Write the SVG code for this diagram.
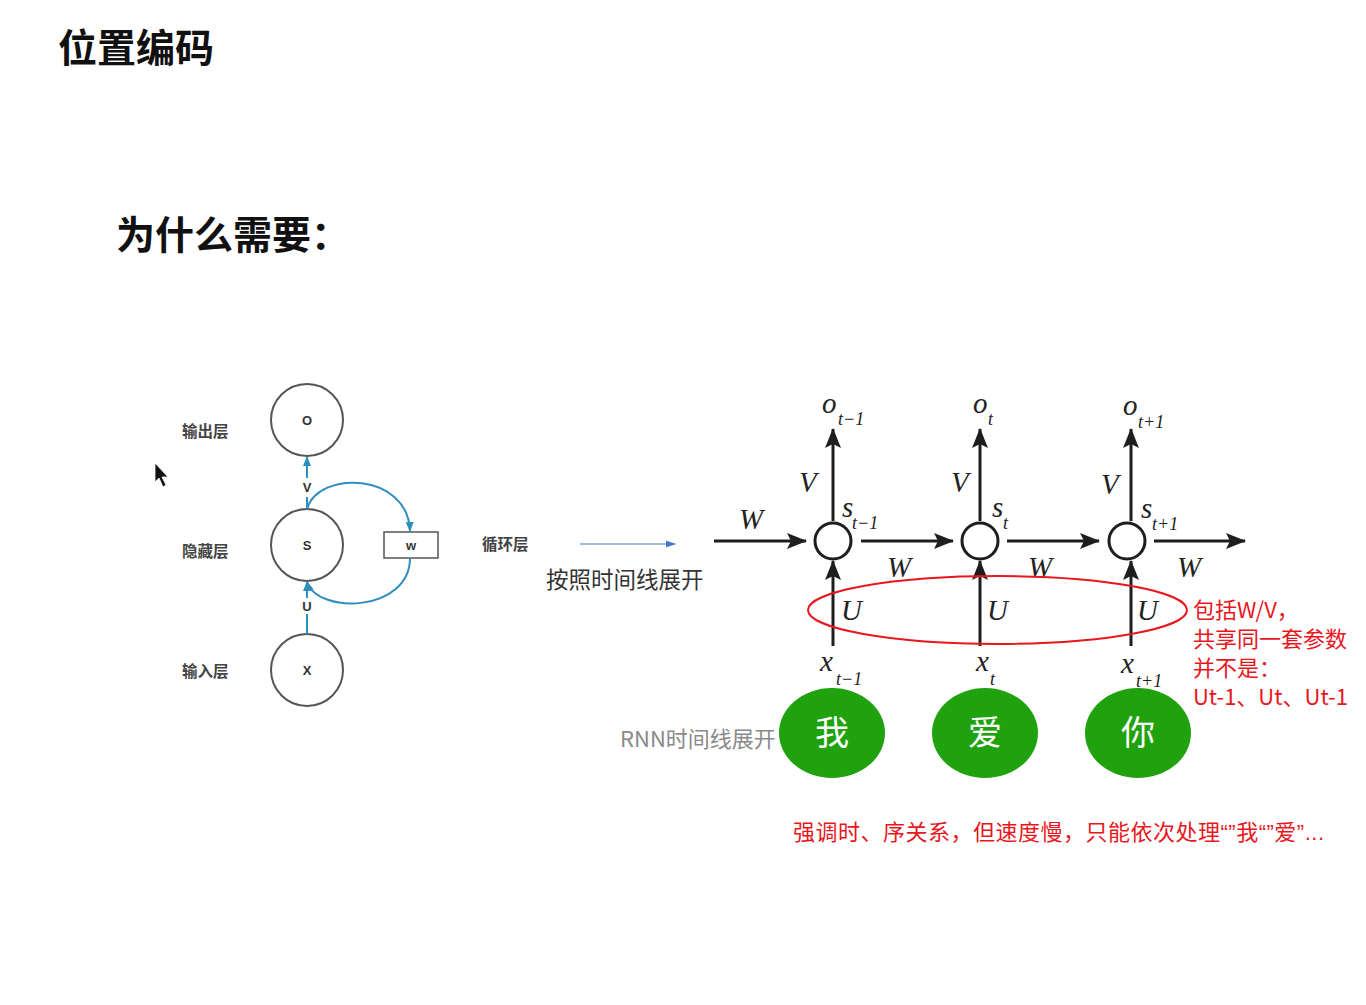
<svg xmlns="http://www.w3.org/2000/svg" width="1366" height="1005" viewBox="0 0 1366 1005">
<style>
.cjk{font-family:"Noto Sans CJK SC","Noto Sans",sans-serif}
.lat{font-family:"Liberation Sans",Arial,sans-serif}
.title{font-size:39px;font-weight:bold;fill:#111}
.lbl{font-size:15.5px;font-weight:bold;fill:#444}
.math{font-family:"Liberation Serif","DejaVu Serif",serif;font-style:italic;fill:#222}
.big{font-size:29px}
.sub{font-size:18px}
.red{fill:#e8161d;font-size:22px}
.node{fill:#fff;stroke:#555;stroke-width:2}
.blk{stroke:#1e1e1e;stroke-width:3;fill:none}
.blue{stroke:#2d8fc0;stroke-width:2;fill:none}
.green{fill:#1fa20e}
.gtxt{fill:#fff;font-size:34px;text-anchor:middle}
.let{font-family:"Liberation Sans",Arial,sans-serif;font-size:13px;font-weight:bold;fill:#333;text-anchor:middle}
</style>
<defs>
<marker id="ah" markerUnits="userSpaceOnUse" markerWidth="20" markerHeight="16" refX="19" refY="8" orient="auto">
<path d="M0,0 L20,8 L0,16 L4,8 z" fill="#1e1e1e"/>
</marker>
<marker id="bh" markerUnits="userSpaceOnUse" markerWidth="10" markerHeight="10" refX="9" refY="5" orient="auto">
<path d="M0,1 L10,5 L0,9 z" fill="#2d8fc0"/>
</marker>
<marker id="bh2" markerUnits="userSpaceOnUse" markerWidth="10" markerHeight="10" refX="9" refY="5" orient="auto">
<path d="M0,1.5 L10,5 L0,8.5 z" fill="#4a78d0"/>
</marker>
</defs>
<rect width="1366" height="1005" fill="#fff"/>

<text class="cjk title" x="58" y="62">位置编码</text>
<text class="cjk title" x="116" y="249">为什么需要：</text>

<!-- cursor -->
<polygon points="155,463 155,482 159,478 163,487 166,485 162,477 168,477" fill="#111" stroke="#fff" stroke-width="0.8"/>

<!-- left diagram -->
<g id="left-labels">
<text class="cjk lbl" x="182" y="437">输出层</text>
<text class="cjk lbl" x="182" y="557">隐藏层</text>
<text class="cjk lbl" x="182" y="677">输入层</text>
<text class="cjk lbl" x="482" y="550">循环层</text>
</g>
<g id="node-O"><circle class="node" cx="307" cy="420" r="36"/><text class="let" x="307" y="425">O</text></g>
<g id="node-S"><circle class="node" cx="307" cy="545" r="36"/><text class="let" x="307" y="550">S</text></g>
<g id="node-X"><circle class="node" cx="307" cy="670" r="36"/><text class="let" x="307" y="675">X</text></g>
<g id="node-w"><rect x="384" y="532" width="54" height="26" fill="#fff" stroke="#555" stroke-width="1.5"/><text class="let" x="411" y="550" font-size="12">w</text></g>
<g id="left-connectors">
<line class="blue" x1="307" y1="478" x2="307" y2="457" marker-end="url(#bh)"/>
<line class="blue" x1="307" y1="497" x2="307" y2="509"/>
<text class="let" x="307" y="492" font-size="12">V</text>
<line class="blue" x1="307" y1="634" x2="307" y2="614"/>
<line class="blue" x1="307" y1="598" x2="307" y2="582" marker-end="url(#bh)"/>
<text class="let" x="307" y="611" font-size="12">U</text>
<path class="blue" d="M307,509 C318,470 408,472 410,531" marker-end="url(#bh)"/>
<path class="blue" d="M410,558 C410,612 318,615 307,582" marker-end="url(#bh)"/>
</g>

<!-- middle -->
<line x1="580" y1="544" x2="675" y2="544" stroke="#4a78d0" stroke-width="1.2" marker-end="url(#bh2)"/>
<text class="cjk" x="546" y="588" font-size="22.5" fill="#333">按照时间线展开</text>
<text class="cjk" x="620" y="747" font-size="22" fill="#8a8a8a">RNN时间线展开</text>

<!-- right diagram connectors -->
<g id="connectors">
<line class="blk" x1="714" y1="541" x2="806" y2="541" marker-end="url(#ah)"/>
<line class="blk" x1="861" y1="541" x2="953" y2="541" marker-end="url(#ah)"/>
<line class="blk" x1="1007" y1="541" x2="1099" y2="541" marker-end="url(#ah)"/>
<line class="blk" x1="1154" y1="541" x2="1245" y2="541" marker-end="url(#ah)"/>
<line class="blk" x1="833" y1="521" x2="833" y2="429" marker-end="url(#ah)"/>
<line class="blk" x1="980" y1="521" x2="980" y2="429" marker-end="url(#ah)"/>
<line class="blk" x1="1131" y1="521" x2="1131" y2="429" marker-end="url(#ah)"/>
<line class="blk" x1="833" y1="646" x2="833" y2="561" marker-end="url(#ah)"/>
<line class="blk" x1="980" y1="646" x2="980" y2="561" marker-end="url(#ah)"/>
<line class="blk" x1="1131" y1="646" x2="1131" y2="561" marker-end="url(#ah)"/>
</g>
<g id="node-s1"><circle cx="833" cy="541" r="18" fill="#fff" stroke="#1e1e1e" stroke-width="3"/></g>
<g id="node-s2"><circle cx="980" cy="541" r="18" fill="#fff" stroke="#1e1e1e" stroke-width="3"/></g>
<g id="node-s3"><circle cx="1127" cy="541" r="18" fill="#fff" stroke="#1e1e1e" stroke-width="3"/></g>

<g id="math-labels">
<text class="math big" x="739" y="529">W</text>
<text class="math big" x="887" y="577">W</text>
<text class="math big" x="1028" y="577">W</text>
<text class="math big" x="1177" y="577">W</text>
<text class="math big" x="799" y="492">V</text>
<text class="math big" x="951" y="492">V</text>
<text class="math big" x="1101" y="494">V</text>
<text class="math big" x="841" y="620">U</text>
<text class="math big" x="987" y="620">U</text>
<text class="math big" x="1137" y="620">U</text>
<text class="math big" x="822" y="413">o</text><text class="math sub" x="838" y="425">t−1</text>
<text class="math big" x="973" y="413">o</text><text class="math sub" x="988" y="425">t</text>
<text class="math big" x="1123" y="415">o</text><text class="math sub" x="1138" y="428">t+1</text>
<text class="math big" x="842" y="517">s</text><text class="math sub" x="852" y="529">t−1</text>
<text class="math big" x="992" y="517">s</text><text class="math sub" x="1003" y="529">t</text>
<text class="math big" x="1141" y="518">s</text><text class="math sub" x="1152" y="530">t+1</text>
<text class="math big" x="820" y="671">x</text><text class="math sub" x="836" y="685">t−1</text>
<text class="math big" x="976" y="671">x</text><text class="math sub" x="990" y="685">t</text>
<text class="math big" x="1121" y="673">x</text><text class="math sub" x="1136" y="687">t+1</text>
</g>

<ellipse cx="997.5" cy="610" rx="189.5" ry="34" fill="none" stroke="#e8161d" stroke-width="2"/>

<g id="red-note">
<text class="cjk red" x="1193" y="618">包括W/V，</text>
<text class="cjk red" x="1193" y="647">共享同一套参数</text>
<text class="cjk red" x="1193" y="676">并不是：</text>
<text class="cjk red" x="1193" y="705">Ut-1、Ut、Ut-1</text>
</g>

<g id="word-wo"><ellipse class="green" cx="832" cy="733" rx="53" ry="45"/><text class="cjk gtxt" x="832" y="745">我</text></g>
<g id="word-ai"><ellipse class="green" cx="985" cy="733" rx="53" ry="45"/><text class="cjk gtxt" x="985" y="745">爱</text></g>
<g id="word-ni"><ellipse class="green" cx="1138" cy="733" rx="53" ry="45"/><text class="cjk gtxt" x="1138" y="745">你</text></g>

<text class="cjk red" x="793" y="840" font-size="22.5" letter-spacing="0.5">强调时、序关系，但速度慢，只能依次处理<tspan class="lat">“”</tspan>我<tspan class="lat">“”</tspan>爱<tspan class="lat">”...</tspan></text>
</svg>
